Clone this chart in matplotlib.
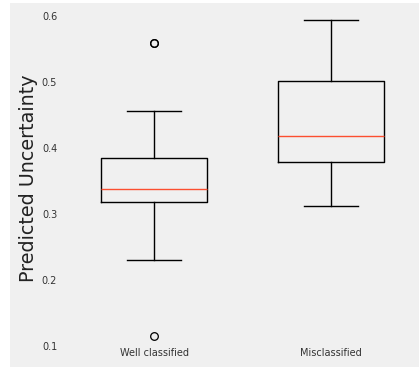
import matplotlib.pyplot as plt
from matplotlib.patches import Rectangle

# Box statistics
labels = ["Well classified", "Misclassified"]
q1 = [0.317, 0.379]
med = [0.337, 0.418]
q3 = [0.384, 0.501]
whislo = [0.230, 0.311]
whishi = [0.456, 0.593]
fliers = [[0.558, 0.5585, 0.114], []]

stats = []
for i in range(len(labels)):
    stats.append({
        "label": labels[i],
        "q1": q1[i],
        "med": med[i],
        "q3": q3[i],
        "whislo": whislo[i],
        "whishi": whishi[i],
        "fliers": fliers[i],
    })

fig = plt.figure(figsize=(4.19, 3.67), dpi=100, facecolor="#f0f0f0")
# white border on the left and top, as in the reference crop
fig.patches.append(Rectangle((0, 0), 10 / 419, 1, transform=fig.transFigure,
                             facecolor="white", edgecolor="none"))
fig.patches.append(Rectangle((0, 1 - 3 / 367), 1, 3 / 367, transform=fig.transFigure,
                             facecolor="white", edgecolor="none"))

ax = fig.add_axes([65.5 / 419, 1 - 352.5 / 367, 354 / 419, 348 / 367])
ax.set_facecolor("#f0f0f0")

ax.bxp(stats, widths=0.6,
       boxprops=dict(color="black", linewidth=1),
       whiskerprops=dict(color="black", linewidth=1),
       capprops=dict(color="black", linewidth=1),
       medianprops=dict(color="#fc4f30", linewidth=1),
       flierprops=dict(marker="o", markerfacecolor="none", markeredgecolor="black",
                       markersize=5.5, markeredgewidth=0.9))

ax.set_xlim(0.5, 2.5)
ax.set_ylim(0.0897, 0.617)
ax.set_yticks([0.1, 0.2, 0.3, 0.4, 0.5, 0.6])
ax.set_yticklabels(["0.1", "0.2", "0.3", "0.4", "0.5", "0.6"])
for s in ax.spines.values():
    s.set_visible(False)
ax.tick_params(length=0, labelsize=7, colors="#333333")
ax.tick_params(axis="y", pad=6)
ax.tick_params(axis="x", pad=-3)
ax.set_ylabel("Predicted Uncertainty", fontsize=13.8, color="#222222", labelpad=3)

fig.savefig("out.png", dpi=100, facecolor=fig.get_facecolor())
